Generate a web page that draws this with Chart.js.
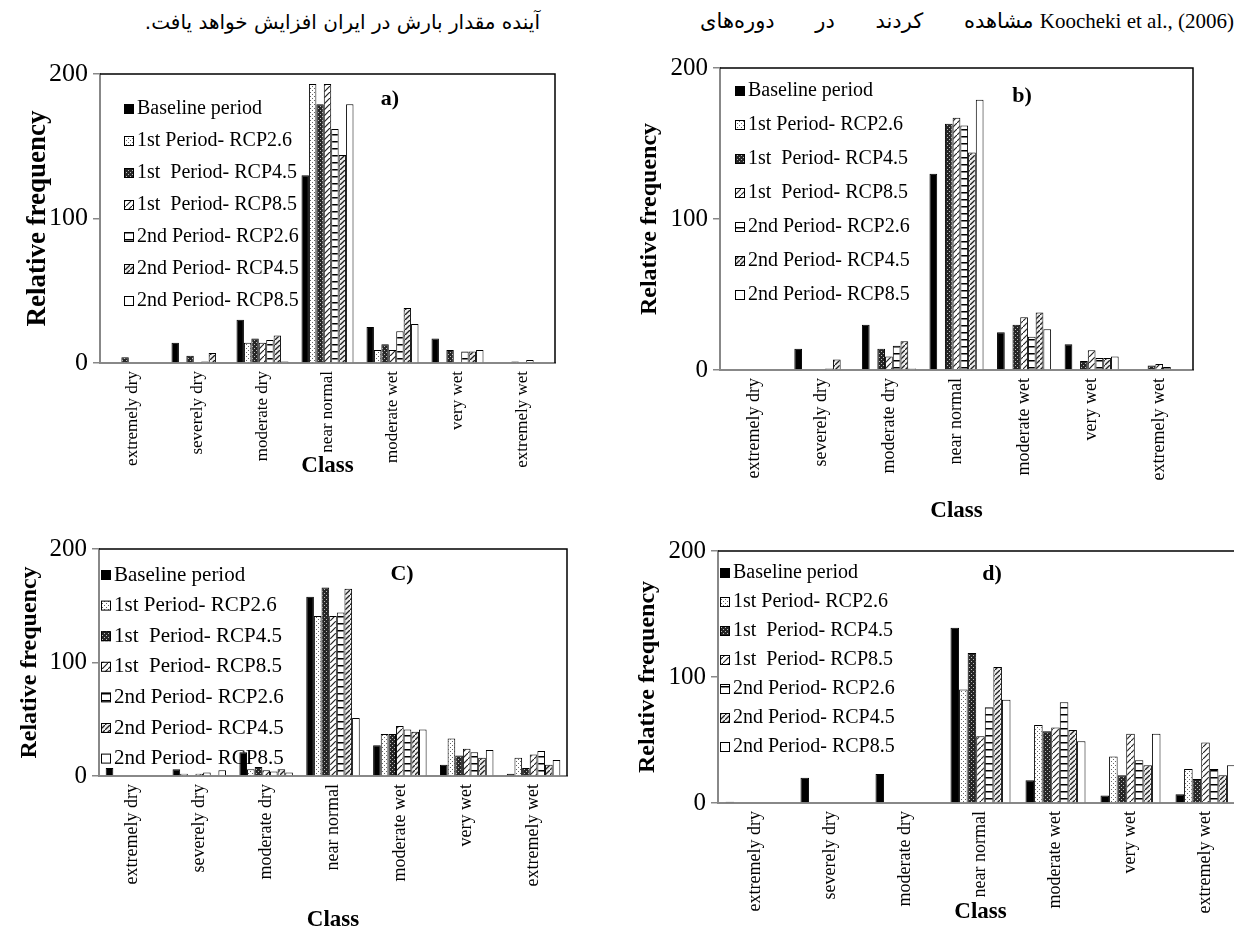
<!DOCTYPE html>
<html><head><meta charset="utf-8">
<script src="https://cdn.jsdelivr.net/npm/chart.js@4.4.0/dist/chart.umd.min.js"></script>
<style>
html,body{margin:0;padding:0;background:#fff;width:1234px;height:931px;overflow:hidden;position:relative;}
canvas{position:absolute;}
.txt{position:absolute;white-space:nowrap;font-size:20px;color:#000;font-family:"DejaVu Sans",sans-serif;}
.lat{font-family:"Liberation Serif",Tinos,"Times New Roman",Times,"DejaVu Serif",serif;font-size:21px;}
.lbl{position:absolute;font-weight:bold;font-size:22px;font-family:"Liberation Serif",Tinos,"Times New Roman","DejaVu Serif",serif;transform:translate(-50%,-50%);}
</style></head><body>
<div class="txt" dir="rtl" style="right:694px;top:10px;">آینده مقدار بارش در ایران افزایش خواهد یافت.</div>
<div class="txt" dir="rtl" style="right:0;top:9px;"><bdi dir="ltr" class="lat">Koocheki et al., (2006)</bdi> <span style="word-spacing:34px;font-size:21px">مشاهده کردند در دوره‌های</span></div>
<canvas id="ca" width="610" height="480" style="left:0;top:50px"></canvas>
<canvas id="cb" width="619" height="485" style="left:615px;top:45px"></canvas>
<canvas id="cc" width="610" height="410" style="left:0;top:525px"></canvas>
<canvas id="cd" width="640" height="410" style="left:615px;top:525px"></canvas>
<div class="lbl" style="left:390px;top:98px">a)</div>
<div class="lbl" style="left:1022px;top:95px">b)</div>
<div class="lbl" style="left:402px;top:573px">C)</div>
<div class="lbl" style="left:992px;top:573px">d)</div>
<script>
const categories = ['extremely dry','severely dry','moderate dry','near normal','moderate wet','very wet','extremely wet'];
const seriesNames = ['Baseline period','1st Period- RCP2.6','1st  Period- RCP4.5','1st  Period- RCP8.5','2nd Period- RCP2.6','2nd Period- RCP4.5','2nd Period- RCP8.5'];
const yTicks = [0, 100, 200];
const yTitle = 'Relative frequency';
const xTitle = 'Class';

// panel a)
const A_base  = [0, 14, 30, 130, 25, 17, 0];
const A_p1_26 = [0, 0, 14, 193, 9, 0, 0];
const A_p1_45 = [4, 5, 17, 179, 13, 9, 1];
const A_p1_85 = [0, 0, 14, 193, 9, 0, 0];
const A_p2_26 = [0, 1, 16, 162, 22, 8, 2];
const A_p2_45 = [0, 7, 19, 144, 38, 8, 0];
const A_p2_85 = [0, 0, 1, 179, 27, 9, 0];
// panel b)
const B_base  = [0, 14, 30, 130, 25, 17, 0];
const B_p1_26 = [0, 0, 0, 0, 0, 0, 0];
const B_p1_45 = [0, 0, 14, 163, 30, 6, 3];
const B_p1_85 = [0, 0, 9, 167, 35, 13, 4];
const B_p2_26 = [0, 1, 16, 162, 22, 8, 2];
const B_p2_45 = [0, 7, 19, 144, 38, 8, 0];
const B_p2_85 = [0, 0, 1, 179, 27, 9, 0];
// panel C)
const C_base  = [7, 6, 21, 158, 27, 10, 2];
const C_p1_26 = [0, 2, 6, 141, 37, 33, 16];
const C_p1_45 = [0, 0, 8, 166, 37, 18, 7];
const C_p1_85 = [0, 2, 5, 141, 44, 24, 19];
const C_p2_26 = [0, 3, 4, 144, 41, 21, 22];
const C_p2_45 = [0, 0, 6, 165, 39, 16, 10];
const C_p2_85 = [0, 5, 3, 51, 41, 23, 14];
// panel d)
const D_base  = [1, 20, 23, 139, 18, 6, 7];
const D_p1_26 = [0, 0, 0, 90, 62, 37, 27];
const D_p1_45 = [0, 0, 0, 119, 57, 22, 19];
const D_p1_85 = [0, 0, 0, 53, 60, 55, 48];
const D_p2_26 = [0, 0, 0, 76, 80, 34, 27];
const D_p2_45 = [0, 0, 0, 108, 58, 30, 22];
const D_p2_85 = [0, 0, 0, 82, 49, 55, 30];

function makePattern(w, h, draw) {
  const c = document.createElement('canvas'); c.width = w; c.height = h;
  const x = c.getContext('2d'); draw(x, w, h);
  return x.createPattern(c, 'repeat');
}
const fills = [
  '#000000',
  makePattern(4, 4, (x)=>{ x.fillStyle='#fff'; x.fillRect(0,0,4,4); x.fillStyle='#666'; x.fillRect(0,0,1,1); x.fillRect(2,2,1,1); }),
  makePattern(4, 4, (x)=>{ x.fillStyle='#262626'; x.fillRect(0,0,4,4); x.fillStyle='#bbb'; x.fillRect(0,0,1,1); x.fillRect(2,2,1,1); }),
  makePattern(6, 6, (x)=>{ x.fillStyle='#fff'; x.fillRect(0,0,6,6); x.strokeStyle='#222'; x.lineWidth=1.2; x.beginPath(); x.moveTo(0,6); x.lineTo(6,0); x.stroke(); }),
  makePattern(4, 7, (x)=>{ x.fillStyle='#fff'; x.fillRect(0,0,4,7); x.fillStyle='#000'; x.fillRect(0,0,4,1.5); }),
  makePattern(5, 5, (x)=>{ x.fillStyle='#eee'; x.fillRect(0,0,5,5); x.strokeStyle='#222'; x.lineWidth=1.3; x.beginPath(); x.moveTo(0,5); x.lineTo(5,0); x.stroke(); }),
  '#ffffff'
];

const FONT = '"Liberation Serif", Tinos, "Times New Roman", Times, "DejaVu Serif", serif';

const framePlugin = {
  id: 'frame',
  afterDatasetsDraw(chart) {
    const {ctx, chartArea: {left, top, right, bottom}} = chart;
    ctx.save(); ctx.strokeStyle = '#000'; ctx.lineWidth = 1.5;
    ctx.beginPath(); ctx.moveTo(left, top); ctx.lineTo(right, top); ctx.lineTo(right, bottom); ctx.stroke();
    ctx.restore();
  }
};
const legendPlugin = {
  id: 'boxLegend',
  afterDraw(chart, args, o) {
    const ctx = chart.ctx; ctx.save();
    ctx.font = o.size + 'px ' + FONT; ctx.textBaseline = 'middle'; ctx.textAlign = 'left';
    chart.data.datasets.forEach((ds, i) => {
      const y = o.y + i * o.dy;
      ctx.fillStyle = ds.backgroundColor; ctx.fillRect(o.x, y - o.box/2, o.box, o.box);
      ctx.strokeStyle = '#000'; ctx.lineWidth = 1; ctx.strokeRect(o.x + 0.5, y - o.box/2 + 0.5, o.box - 1, o.box - 1);
      ctx.fillStyle = '#000'; ctx.fillText(ds.label, o.x + o.box + 3, y);
    });
    ctx.restore();
  }
};

function makeChart(id, seriesList, g) {
  const datasets = seriesList.map((vals, i) => ({
    label: seriesNames[i], data: vals, backgroundColor: fills[i],
    borderColor: '#000', borderWidth: 1, categoryPercentage: 0.8, barPercentage: 1.0
  }));
  return new Chart(document.getElementById(id), {
    type: 'bar',
    data: { labels: categories, datasets },
    options: {
      responsive: false, animation: false,
      layout: { padding: { top: g.padTop, right: g.padRight, left: 0, bottom: 0 } },
      plugins: { legend: { display: false }, tooltip: { enabled: false },
        boxLegend: { x: g.lx, y: g.ly, dy: g.ldy, box: 10, size: g.lsize } },
      scales: {
        x: {
          afterFit(s) { s.height = g.xH; },
          grid: { display: false, drawTicks: false },
          border: { display: true, color: '#888', width: 2 },
          ticks: { autoSkip: false, minRotation: 90, maxRotation: 90, padding: 8, color: '#000', font: { family: FONT, size: g.xSize } },
          title: { display: true, text: xTitle, color: '#000', font: { family: FONT, size: 23, weight: 'bold' }, padding: { top: 0, bottom: g.classPad } }
        },
        y: {
          min: 0, max: 200,
          afterFit(s) { s.width = g.yW; },
          afterBuildTicks(s) { s.ticks = yTicks.map(v => ({ value: v })); },
          grid: { drawOnChartArea: false, drawTicks: true, tickLength: 7, color: '#888', lineWidth: 1.5 },
          border: { display: true, color: '#888', width: 2 },
          ticks: { padding: 5, color: '#000', font: { family: FONT, size: g.tSize } },
          title: { display: true, text: yTitle, color: '#000', font: { family: FONT, size: g.ySize, weight: 'bold' }, padding: { top: g.titlePad, bottom: 0 } }
        }
      }
    },
    plugins: [framePlugin, legendPlugin]
  });
}

makeChart('ca', [A_base, A_p1_26, A_p1_45, A_p1_85, A_p2_26, A_p2_45, A_p2_85],
  { padTop: 24, padRight: 55, xH: 167, yW: 100, classPad: 50, titlePad: 22, ySize: 27, tSize: 26, xSize: 17, lx: 124, ly: 59, ldy: 32, lsize: 20 });
makeChart('cb', [B_base, B_p1_26, B_p1_45, B_p1_85, B_p2_26, B_p2_45, B_p2_85],
  { padTop: 23, padRight: 41, xH: 160, yW: 105, classPad: 5, titlePad: 20, ySize: 24, tSize: 25, xSize: 18, lx: 120, ly: 46, ldy: 34, lsize: 20 });
makeChart('cc', [C_base, C_p1_26, C_p1_45, C_p1_85, C_p2_26, C_p2_45, C_p2_85],
  { padTop: 24, padRight: 43, xH: 159, yW: 99, classPad: 1, titlePad: 15, ySize: 24, tSize: 25, xSize: 18, lx: 101, ly: 50, ldy: 30.6, lsize: 21 });
makeChart('cd', [D_base, D_p1_26, D_p1_45, D_p1_85, D_p2_26, D_p2_45, D_p2_85],
  { padTop: 26, padRight: 12, xH: 132, yW: 103, classPad: 9, titlePad: 18, ySize: 24, tSize: 25, xSize: 18, lx: 105, ly: 48, ldy: 29, lsize: 20 });
</script>
</body></html>
